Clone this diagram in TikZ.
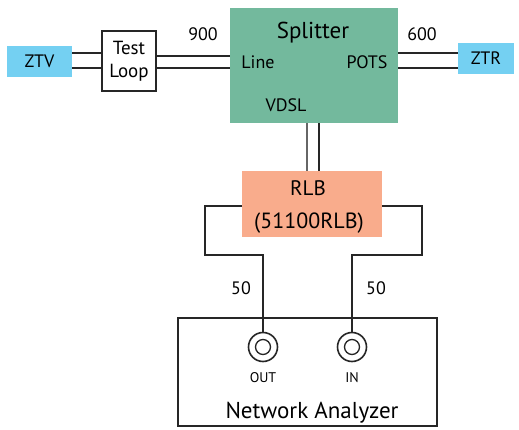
\documentclass[tikz,border=0pt]{standalone}
\usepackage{fontspec}
\setmainfont{PT Sans}
\begin{document}
\begin{tikzpicture}[x=1pt,y=-1pt,
  wire/.style={line width=1.8pt,black!85},
  box/.style={draw=black!85,line width=1.5pt},
  lbl/.style={font=\fontsize{18}{18}\selectfont},
  inlbl/.style={font=\fontsize{18}{18}\selectfont}]
\useasboundingbox[fill=white] (0,0) rectangle (519,430);
\definecolor{ztvblue}{HTML}{74D0F2}
\definecolor{splgreen}{HTML}{73B99D}
\definecolor{rlbsal}{HTML}{F9AC8C}
% boxes
\node[fill=ztvblue,minimum width=65pt,minimum height=31pt,inner sep=0pt,inlbl] (ztv) at (39.5,61.5) {ZTV};
\node[box,fill=white,minimum width=54pt,minimum height=60pt,inner sep=0pt,align=center,font=\fontsize{19}{23}\selectfont] (tl) at (129,61) {Test\\Loop};
\node[fill=splgreen,minimum width=168pt,minimum height=115pt,inner sep=0pt] (spl) at (314,65.5) {};
\node[font=\fontsize{23}{23}\selectfont] (splt) at (313,33) {Splitter};
\node[inlbl] (line) at (258,62) {Line};
\node[inlbl] (pots) at (367,62) {POTS};
\node[inlbl] (vdsl) at (286,105) {VDSL};
\node[fill=ztvblue,minimum width=56pt,minimum height=31pt,inner sep=0pt,inlbl] (ztr) at (486,58.5) {ZTR};
\node[fill=rlbsal,minimum width=140pt,minimum height=66pt,inner sep=0pt] (rlb) at (312,204) {};
\node[font=\fontsize{21}{21}\selectfont] (rlbt) at (308,188) {RLB};
\node[font=\fontsize{22}{22}\selectfont] (rlbm) at (309,223) {(51100RLB)};
\node[box,minimum width=259pt,minimum height=108pt,inner sep=0pt] (na) at (307.5,372) {};
\node[font=\fontsize{23}{23}\selectfont] (nat) at (312,413) {Network Analyzer};
% connectors
\node[circle,draw=black!85,line width=1.6pt,minimum size=29pt,inner sep=0pt] (out) at (263,347) {};
\node[circle,draw=black!85,line width=1.3pt,minimum size=15pt,inner sep=0pt] (outi) at (263,347) {};
\node[circle,draw=black!85,line width=1.6pt,minimum size=29pt,inner sep=0pt] (in) at (352,347) {};
\node[circle,draw=black!85,line width=1.3pt,minimum size=15pt,inner sep=0pt] (ini) at (352,347) {};
\node[font=\fontsize{14}{14}\selectfont] (outt) at (263,378) {OUT};
\node[font=\fontsize{14}{14}\selectfont] (int) at (352,378) {IN};
% labels
\node[lbl] (l900) at (203,34) {900};
\node[lbl] (l600) at (422,34) {600};
\node[lbl] (l50a) at (241,288) {50};
\node[lbl] (l50b) at (376,288) {50};
% wires
\draw[wire] (ztv.east|-0,53) -- (tl.west|-0,53);
\draw[wire] (ztv.east|-0,68) -- (tl.west|-0,68);
\draw[wire] (tl.east|-0,56) -- (spl.west|-0,56);
\draw[wire] (tl.east|-0,68) -- (spl.west|-0,68);
\draw[wire] (spl.east|-0,53) -- (ztr.west|-0,53);
\draw[wire] (spl.east|-0,68) -- (ztr.west|-0,68);
\draw[wire,line width=1.4pt,black!60] (spl.south-|307,0) -- (rlb.north-|307,0);
\draw[wire,line width=1.4pt] (spl.south-|319,0) -- (rlb.north-|319,0);
\draw[wire] (rlb.west|-0,206) -- (205,206) -- (205,255) -- (263,255) -- (out.north);
\draw[wire] (rlb.east|-0,206) -- (422,206) -- (422,255) -- (352,255) -- (in.north);
\end{tikzpicture}
\end{document}
